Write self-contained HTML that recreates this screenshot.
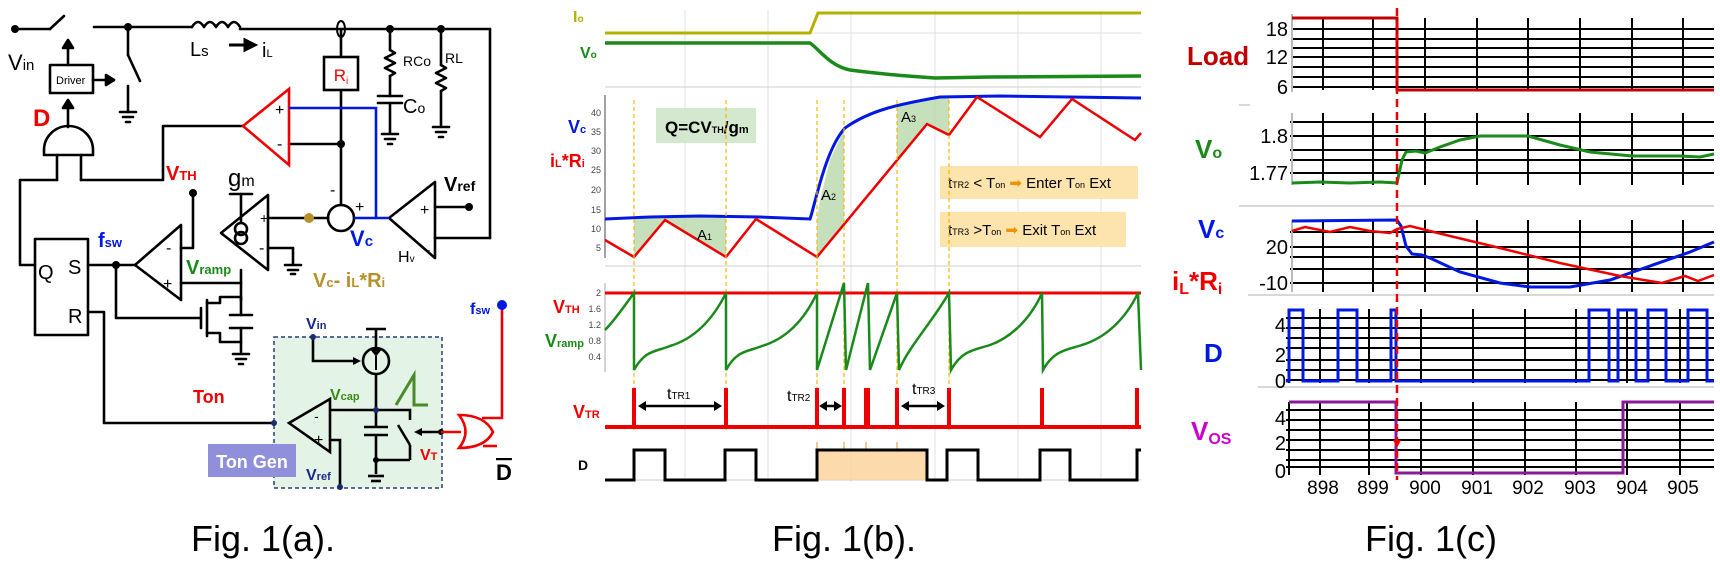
<!DOCTYPE html>
<html><head><meta charset="utf-8"><style>
html,body{margin:0;padding:0;background:#fff}
svg{display:block}
text{font-family:"Liberation Sans",sans-serif}
</style></head><body>
<svg width="1720" height="574" viewBox="0 0 1720 574" xmlns="http://www.w3.org/2000/svg">
<!-- ================= FIG A ================= -->
<g stroke="#000" stroke-width="2.6" fill="none" stroke-linecap="round" stroke-linejoin="round">
  <!-- top wire -->
  <line x1="15" y1="29" x2="50" y2="29"/><line x1="50" y1="29" x2="64" y2="16"/>
  <line x1="94" y1="27" x2="192" y2="27"/>
  <path d="M192 27 q6 -10 12 0 q6 -10 12 0 q6 -10 12 0 q6 -10 12 0"/>
  <line x1="240" y1="29" x2="490" y2="29"/>
  <line x1="490" y1="29" x2="490" y2="238"/><line x1="490" y1="238" x2="435" y2="238"/>
  <!-- shunt switch -->
  <line x1="128" y1="27" x2="128" y2="55"/><line x1="128" y1="55" x2="140" y2="81"/>
  <line x1="128" y1="86" x2="128" y2="112"/>
  <line x1="120" y1="112" x2="136" y2="112"/><line x1="123" y1="117" x2="133" y2="117"/><line x1="126" y1="122" x2="130" y2="122"/>
  <!-- driver -->
  <rect x="50" y="65" width="43" height="28"/>
  <line x1="68" y1="65" x2="68" y2="44"/><path d="M63 48 L68 40 L73 48 Z" fill="#000"/>
  <line x1="93" y1="80" x2="110" y2="80"/><path d="M106 75 L114 80 L106 85 Z" fill="#000"/>
  <line x1="68" y1="127" x2="68" y2="104"/><path d="M63 108 L68 100 L73 108 Z" fill="#000"/>
  <!-- AND gate -->
  <path d="M44 155 L44 150 A24.5 24 0 0 1 93 150 L93 155 Z"/>
  <line x1="57" y1="155" x2="57" y2="180"/><line x1="81" y1="155" x2="81" y2="180"/>
  <polyline points="81,180 163,180 163,126 243,126"/>
  <polyline points="57,180 20,180 20,265 35,265"/>
  <!-- Ri path -->
  <line x1="341" y1="29" x2="341" y2="57"/>
  <line x1="341" y1="90" x2="341" y2="205"/>
  <line x1="289" y1="144" x2="341" y2="144"/>
  <!-- RCo, Co -->
  <line x1="390" y1="29" x2="390" y2="50"/>
  <path d="M390 50 l5 3 l-10 5 l10 5 l-10 5 l10 5 l-5 3"/>
  <line x1="390" y1="76" x2="390" y2="96"/>
  <line x1="378" y1="96" x2="402" y2="96"/><line x1="378" y1="103" x2="402" y2="103"/>
  <line x1="390" y1="103" x2="390" y2="132"/>
  <line x1="382" y1="134" x2="398" y2="134"/><line x1="385" y1="139" x2="395" y2="139"/><line x1="388" y1="144" x2="392" y2="144"/>
  <!-- RL -->
  <line x1="441" y1="29" x2="441" y2="65"/>
  <path d="M441 65 l5 3 l-10 5 l10 5 l-10 5 l10 5 l-5 3"/>
  <line x1="441" y1="91" x2="441" y2="125"/>
  <line x1="433" y1="127" x2="449" y2="127"/><line x1="436" y1="132" x2="446" y2="132"/><line x1="439" y1="137" x2="443" y2="137"/>
  <!-- Hv opamp -->
  <path d="M389 218 L435 182 L435 258 Z"/>
  <line x1="435" y1="207" x2="469" y2="207"/>
  <circle cx="341" cy="218" r="13"/>
  <line x1="268" y1="218" x2="328" y2="218"/>
  <!-- gm -->
  <path d="M221 233 L268 195 L268 270 Z"/>
  <circle cx="241" cy="229" r="6"/><circle cx="241" cy="238" r="6"/>
  <line x1="241" y1="222" x2="241" y2="194"/><line x1="230" y1="194" x2="252" y2="194"/>
  <line x1="268" y1="248" x2="293" y2="248"/><line x1="293" y1="248" x2="293" y2="264"/>
  <line x1="285" y1="265" x2="301" y2="265"/><line x1="288" y1="270" x2="298" y2="270"/><line x1="291" y1="274" x2="295" y2="274"/>
  <!-- fsw comparator -->
  <path d="M135 265 L181 225 L181 300 Z"/>
  <polyline points="181,248 193,248 193,195"/>
  <line x1="181" y1="283" x2="241" y2="283"/>
  <line x1="241" y1="270" x2="241" y2="300"/>
  <!-- SR latch -->
  <rect x="35" y="239" width="53" height="96"/>
  <line x1="88" y1="265" x2="135" y2="265"/>
  <polyline points="116,265 116,318 200,318"/>
  <line x1="201" y1="308" x2="201" y2="328"/>
  <line x1="207" y1="300" x2="207" y2="336"/>
  <polyline points="207,303 220,303 220,297 241,297 241,300"/>
  <polyline points="207,333 220,333 220,342 241,342 241,352"/>
  <line x1="230" y1="315" x2="252" y2="315"/><line x1="230" y1="328" x2="252" y2="328"/>
  <line x1="241" y1="300" x2="241" y2="315"/><line x1="241" y1="328" x2="241" y2="342"/>
  <line x1="233" y1="354" x2="249" y2="354"/><line x1="236" y1="359" x2="246" y2="359"/><line x1="239" y1="364" x2="243" y2="364"/>
  <polyline points="88,312 104,312 104,423 289,423"/>
</g>
<!-- Ton gen box -->
<rect x="274" y="337" width="168" height="151" fill="#e3f3e6" stroke="#2a3a7a" stroke-width="1.5" stroke-dasharray="4,3"/>
<rect x="208" y="444" width="88" height="33" fill="#8f8fdc"/>
<text x="252" y="468" font-size="18" fill="#fff" text-anchor="middle" font-weight="bold">Ton Gen</text>
<g stroke="#000" stroke-width="2.6" fill="none">
  <path d="M289 423 L330 399 L330 452 Z"/>
  <polyline points="330,410 376,410 410,410 410,420"/>
  <line x1="376" y1="329" x2="376" y2="348"/><line x1="366" y1="329" x2="386" y2="329"/>
  <circle cx="376" cy="361" r="13"/>
  <line x1="376" y1="374" x2="376" y2="427"/>
  <line x1="364" y1="427" x2="388" y2="427"/><line x1="364" y1="435" x2="388" y2="435"/>
  <line x1="376" y1="435" x2="376" y2="474"/>
  <line x1="376" y1="460" x2="410" y2="460"/><line x1="410" y1="460" x2="410" y2="445"/><line x1="410" y1="445" x2="398" y2="425"/>
  <line x1="368" y1="476" x2="384" y2="476"/><line x1="371" y1="481" x2="381" y2="481"/>
  <polyline points="330,440 340,440 340,487"/>
  <polyline points="313,337 313,361 355,361"/>
  <line x1="418" y1="432" x2="441" y2="432"/>
</g>
<path d="M376 355 l-4 -5 h8z M376 370 v-14" stroke="#000" stroke-width="2" fill="#000"/>
<path d="M361 361 l-8 -4 v8z" fill="#000"/>
<path d="M414 432 l8 -4 v8z" fill="#000"/>
<circle cx="441" cy="432" r="3" fill="#000"/><circle cx="376" cy="460" r="3" fill="#000"/>
<circle cx="376" cy="410" r="3" fill="#1a2a6a"/><circle cx="313" cy="337" r="3" fill="#1a2a6a"/>
<circle cx="274" cy="423" r="3" fill="#1a2a6a"/><circle cx="340" cy="487" r="3" fill="#1a2a6a"/>
<path d="M396 405 L414 375 L414 405 L428 405" stroke="#4a8a2a" stroke-width="3" fill="none"/>
<!-- OR gate -->
<path d="M459 415 Q472 432 459 448 Q485 448 493 432 Q485 415 459 415 Z" stroke="#e00" stroke-width="2.6" fill="none"/>
<line x1="441" y1="432" x2="461" y2="432" stroke="#e00" stroke-width="2.6"/>
<polyline points="482,418 502,418 502,305" stroke="#e00" stroke-width="2.6" fill="none"/>
<line x1="483" y1="446" x2="497" y2="446" stroke="#e00" stroke-width="2.6"/>
<circle cx="502" cy="305" r="5" fill="#0018e0"/>
<!-- red comparator + blue -->
<path d="M243 126 L289 89 L289 165 Z" stroke="#e00" stroke-width="2.6" fill="none"/>
<polyline points="289,108 376,108 376,218 389,218" stroke="#0018e0" stroke-width="2.6" fill="none"/>
<line x1="354" y1="218" x2="376" y2="218" stroke="#0018e0" stroke-width="2.6"/>
<rect x="324" y="57" width="34" height="33" fill="#fff" stroke="#000" stroke-width="2.6"/>
<text x="341" y="81" font-size="17" fill="#e00" text-anchor="middle">R<tspan font-size="10" dy="3">i</tspan></text>
<ellipse cx="341" cy="29" rx="4" ry="8" fill="none" stroke="#000" stroke-width="2"/>
<g fill="#000">
<circle cx="15" cy="29" r="4"/><circle cx="128" cy="27" r="4"/><circle cx="390" cy="29" r="4"/><circle cx="441" cy="29" r="4"/>
<circle cx="341" cy="144" r="4"/><circle cx="469" cy="207" r="4"/><circle cx="193" cy="193" r="4"/><circle cx="116" cy="265" r="4"/>
</g>
<circle cx="309" cy="218" r="5" fill="#b8902a"/>
<path d="M229 45 h16 M245 40 l10 5 l-10 5z" stroke="#000" stroke-width="3" fill="#000"/>
<g font-size="20" fill="#000">
<text x="8" y="70" font-size="22">V<tspan font-size="15">in</tspan></text>
<text x="56" y="84" font-size="11">Driver</text>
<text x="190" y="56">L<tspan font-size="15">s</tspan></text>
<text x="262" y="57">i<tspan font-size="11">L</tspan></text>
<text x="403" y="66" font-size="14">RCo</text>
<text x="403" y="113" font-size="20">C<tspan font-size="14">o</tspan></text>
<text x="445" y="63" font-size="14">RL</text>
<text x="228" y="186" font-size="24">g<tspan font-size="16">m</tspan></text>
<text x="38" y="279" font-size="20">Q</text><text x="68" y="274" font-size="20">S</text><text x="68" y="323" font-size="20">R</text>
<text x="398" y="262" font-size="16">H<tspan font-size="10">v</tspan></text>
<text x="444" y="191" font-size="20" font-weight="bold">V<tspan font-size="14">ref</tspan></text>
<text x="330" y="195" font-size="16">-</text><text x="355" y="212" font-size="16">+</text>
<text x="275" y="115" font-size="16">+</text><text x="277" y="149" font-size="16">-</text>
<text x="260" y="223" font-size="14">+</text><text x="259" y="253" font-size="16">-</text>
<text x="166" y="253" font-size="16">-</text><text x="163" y="289" font-size="16">+</text>
<text x="314" y="421" font-size="14">-</text><text x="314" y="445" font-size="16">+</text>
<text x="425" y="255" font-size="16">-</text><text x="420" y="215" font-size="16">+</text>
<text x="496" y="480" font-size="22" font-weight="bold" text-decoration="overline">D</text>
</g>
<g font-weight="bold">
<text x="33" y="126" font-size="24" fill="#e00">D</text>
<text x="166" y="180" font-size="20" fill="#e00">V<tspan font-size="13">TH</tspan></text>
<text x="98" y="247" font-size="20" fill="#0018e0">f<tspan font-size="13">sw</tspan></text>
<text x="186" y="274" font-size="20" fill="#1a8a1a">V<tspan font-size="13">ramp</tspan></text>
<text x="350" y="246" font-size="22" fill="#0018e0">V<tspan font-size="15">c</tspan></text>
<text x="313" y="287" font-size="20" fill="#b8902a">V<tspan font-size="13">c</tspan>- i<tspan font-size="13">L</tspan>*R<tspan font-size="13">i</tspan></text>
<text x="193" y="403" font-size="18" fill="#e00">Ton</text>
<text x="306" y="329" font-size="16" fill="#1a2a8a">V<tspan font-size="11">in</tspan></text>
<text x="330" y="400" font-size="16" fill="#3a8a1a">V<tspan font-size="11">cap</tspan></text>
<text x="420" y="460" font-size="16" fill="#e00">V<tspan font-size="11">T</tspan></text>
<text x="306" y="480" font-size="16" fill="#1a2a8a">V<tspan font-size="11">ref</tspan></text>
<text x="470" y="314" font-size="16" fill="#0018e0">f<tspan font-size="11">sw</tspan></text>
</g>

<!-- ================= FIG B ================= -->
<g stroke="#e2e2e2" stroke-width="1">
<line x1="685" y1="10" x2="685" y2="482"/><line x1="768" y1="10" x2="768" y2="482"/><line x1="851" y1="10" x2="851" y2="482"/>
<line x1="935" y1="10" x2="935" y2="482"/><line x1="1018" y1="10" x2="1018" y2="482"/><line x1="1101" y1="10" x2="1101" y2="482"/>
<line x1="605" y1="33" x2="1141" y2="33"/>
<line x1="605" y1="87" x2="1141" y2="87" stroke="#ccc"/>
<line x1="605" y1="266" x2="1141" y2="266" stroke="#ccc"/>
<line x1="605" y1="480" x2="1141" y2="480" stroke="#ccc"/>
</g>
<line x1="605" y1="95" x2="605" y2="258" stroke="#444" stroke-width="1"/>
<line x1="605" y1="283" x2="605" y2="372" stroke="#aaa" stroke-width="1"/>
<polyline points="605,33 810,33 818,13 1141,13" stroke="#b5b000" stroke-width="3" fill="none"/>
<path d="M605 43 L810 43 C 820 50, 830 66, 850 70 C 880 74, 905 76, 935 78 L 990 77 L1141 76" stroke="#1a8a1a" stroke-width="3.5" fill="none"/>
<g font-size="9" fill="#444" text-anchor="end">
<text x="601" y="116">40</text><text x="601" y="135">35</text><text x="601" y="154">30</text><text x="601" y="173">25</text>
<text x="601" y="193">20</text><text x="601" y="213">15</text><text x="601" y="232">10</text><text x="601" y="251">5</text>
<text x="601" y="296">2</text><text x="601" y="312">1.6</text><text x="601" y="328">1.2</text><text x="601" y="344">0.8</text><text x="601" y="360">0.4</text>
</g>
<rect x="656" y="108" width="100" height="35" fill="#d4e7cf"/>
<text x="665" y="133" font-size="17" font-weight="bold" fill="#000">Q=CV<tspan font-size="9">TH</tspan>/g<tspan font-size="11">m</tspan></text>
<g fill="#b8d8aa" opacity="0.8">
<polygon points="634,257 665,220 726,257 726,218 700,216 650,217 634,218"/>
<polygon points="817,257 844,224 844,130 830,160 820,200 817,219"/>
<polygon points="897,160 927,124 949,135 949,96 920,100 897,106"/>
</g>
<path d="M605 219 L650 217 L700 216 L760 217 L810 219 C 815 205, 825 150, 845 128 C 870 110, 900 104, 940 97 L1000 96 L1141 98" stroke="#0018e0" stroke-width="3" fill="none"/>
<polyline points="605,240 634,257 665,220 726,257 756,219 817,257 927,124 949,135 977,97 1040,137 1072,99 1135,140 1141,133" stroke="#e00" stroke-width="2.5" fill="none"/>
<rect x="940" y="166" width="198" height="33" fill="#fde3ac"/>
<rect x="940" y="212" width="186" height="35" fill="#fde3ac"/>
<g font-size="15" fill="#000">
<text x="948" y="188">t<tspan font-size="9">TR2</tspan> &lt; T<tspan font-size="9">on</tspan> <tspan fill="#f29000">➡</tspan> Enter T<tspan font-size="9">on</tspan> Ext</text>
<text x="948" y="235">t<tspan font-size="9">TR3</tspan> &gt;T<tspan font-size="9">on</tspan>  <tspan fill="#f29000">➡</tspan> Exit T<tspan font-size="9">on</tspan> Ext</text>
<text x="697" y="240">A<tspan font-size="9">1</tspan></text>
<text x="821" y="200">A<tspan font-size="9">2</tspan></text>
<text x="901" y="122">A<tspan font-size="9">3</tspan></text>
</g>
<g stroke="#f5b800" stroke-width="1.2" stroke-dasharray="4,3">
<line x1="634" y1="100" x2="634" y2="430"/><line x1="726" y1="100" x2="726" y2="430"/><line x1="817" y1="100" x2="817" y2="430"/>
<line x1="844" y1="100" x2="844" y2="430"/><line x1="897" y1="100" x2="897" y2="430"/><line x1="949" y1="100" x2="949" y2="430"/>
</g>
<!-- Vramp -->
<line x1="605" y1="293" x2="1141" y2="293" stroke="#e00" stroke-width="3"/>
<path d="M605 330 C 615 320, 625 305, 634 293 L634 370
 C 645 350, 655 352, 670 346 C 690 340, 710 325, 726 293 L726 370
 C 737 350, 747 352, 762 346 C 782 340, 802 325, 817 293 L817 370 L844 283 L846 370 L868 283 L870 370 L897 293 L899 370
 C 910 345, 930 325, 949 293 L951 370
 C 962 350, 975 350, 990 345 C 1010 338, 1030 320, 1042 293 L1043 370
 C 1054 350, 1067 350, 1082 345 C 1105 338, 1125 320, 1138 293 L1141 370" stroke="#1a8a1a" stroke-width="2.5" fill="none"/>
<!-- VTR -->
<line x1="605" y1="427" x2="1141" y2="427" stroke="#e00" stroke-width="4"/>
<g fill="#e00">
<rect x="632" y="388" width="4" height="39"/><rect x="724" y="388" width="4" height="39"/><rect x="815" y="388" width="4" height="39"/>
<rect x="842" y="388" width="4" height="39"/><rect x="864" y="388" width="6" height="39"/><rect x="895" y="388" width="4" height="39"/>
<rect x="947" y="388" width="4" height="39"/><rect x="1040" y="388" width="4" height="39"/><rect x="1135" y="388" width="4" height="39"/>
</g>
<g stroke="#000" stroke-width="2.5">
<line x1="644" y1="406" x2="716" y2="406"/><line x1="825" y1="406" x2="836" y2="406"/><line x1="907" y1="406" x2="939" y2="406"/>
</g>
<g fill="#000">
<path d="M638 406 l8 -5 v10z M722 406 l-8 -5 v10z M819 406 l8 -5 v10z M842 406 l-8 -5 v10z M901 406 l8 -5 v10z M945 406 l-8 -5 v10z"/>
</g>
<g font-size="16" fill="#000">
<text x="667" y="399">t<tspan font-size="10">TR1</tspan></text>
<text x="787" y="401">t<tspan font-size="10">TR2</tspan></text>
<text x="912" y="394">t<tspan font-size="10">TR3</tspan></text>
</g>
<!-- D -->
<rect x="817" y="450" width="110" height="30" fill="#fbd49c" opacity="0.85"/>
<g stroke="#f5a050" stroke-width="1.2"><line x1="817" y1="442" x2="817" y2="449"/><line x1="844" y1="442" x2="844" y2="449"/><line x1="866" y1="442" x2="866" y2="449"/><line x1="897" y1="442" x2="897" y2="449"/></g>
<polyline points="605,480 634,480 634,450 665,450 665,480 725,480 725,450 756,450 756,480 817,480 817,450 927,450 927,480 947,480 947,450 978,450 978,480 1040,480 1040,450 1070,450 1070,480 1137,480 1137,450 1141,450" stroke="#000" stroke-width="3" fill="none"/>
<g font-weight="bold">
<text x="573" y="22" font-size="16" fill="#b5b000">I<tspan font-size="10">o</tspan></text>
<text x="580" y="58" font-size="16" fill="#1a8a1a">V<tspan font-size="10">o</tspan></text>
<text x="568" y="133" font-size="18" fill="#0018e0">V<tspan font-size="11">c</tspan></text>
<text x="550" y="167" font-size="18" fill="#e00">i<tspan font-size="11">L</tspan>*R<tspan font-size="11">i</tspan></text>
<text x="553" y="313" font-size="18" fill="#e00">V<tspan font-size="11">TH</tspan></text>
<text x="545" y="347" font-size="18" fill="#1a8a1a">V<tspan font-size="11">ramp</tspan></text>
<text x="573" y="418" font-size="18" fill="#e00">V<tspan font-size="11">TR</tspan></text>
<text x="578" y="470" font-size="14" fill="#000">D</text>
</g>

<!-- ================= FIG C ================= -->
<g stroke="#000" stroke-width="2">
<!-- Load -->
<line x1="1292" y1="29" x2="1714" y2="29"/><line x1="1292" y1="39" x2="1714" y2="39"/><line x1="1292" y1="48" x2="1714" y2="48"/>
<line x1="1292" y1="57" x2="1714" y2="57"/><line x1="1292" y1="67" x2="1714" y2="67"/><line x1="1292" y1="77" x2="1714" y2="77"/><line x1="1292" y1="87" x2="1714" y2="87"/>
<g id="vl1"><line x1="1323" y1="18" x2="1323" y2="90"/><line x1="1373" y1="18" x2="1373" y2="90"/><line x1="1425" y1="18" x2="1425" y2="90"/>
<line x1="1477" y1="18" x2="1477" y2="90"/><line x1="1528" y1="18" x2="1528" y2="90"/><line x1="1580" y1="18" x2="1580" y2="90"/>
<line x1="1632" y1="18" x2="1632" y2="90"/><line x1="1683" y1="18" x2="1683" y2="90"/></g>
<!-- Vo -->
<line x1="1290" y1="122" x2="1714" y2="122"/><line x1="1290" y1="136" x2="1714" y2="136"/><line x1="1290" y1="150" x2="1714" y2="150"/>
<line x1="1290" y1="160" x2="1714" y2="160"/><line x1="1290" y1="173" x2="1714" y2="173"/>
<g transform="translate(0,95)"><use href="#vl1"/></g>
<!-- Vc -->
<line x1="1290" y1="232" x2="1714" y2="232"/><line x1="1290" y1="247" x2="1714" y2="247"/><line x1="1290" y1="257" x2="1714" y2="257"/>
<line x1="1290" y1="269" x2="1714" y2="269"/><line x1="1290" y1="283" x2="1714" y2="283"/>
<g transform="translate(0,202)"><use href="#vl1"/></g>
<!-- D -->
<line x1="1286" y1="318" x2="1714" y2="318"/><line x1="1286" y1="328" x2="1714" y2="328"/><line x1="1286" y1="338" x2="1714" y2="338"/>
<line x1="1286" y1="348" x2="1714" y2="348"/><line x1="1286" y1="360" x2="1714" y2="360"/><line x1="1286" y1="370" x2="1714" y2="370"/><line x1="1286" y1="380" x2="1714" y2="380"/>
<line x1="1289" y1="309" x2="1289" y2="383"/>
<line x1="1320" y1="309" x2="1320" y2="383"/><line x1="1369" y1="309" x2="1369" y2="383"/><line x1="1421" y1="309" x2="1421" y2="383"/>
<line x1="1473" y1="309" x2="1473" y2="383"/><line x1="1525" y1="309" x2="1525" y2="383"/><line x1="1576" y1="309" x2="1576" y2="383"/>
<line x1="1627" y1="309" x2="1627" y2="383"/><line x1="1680" y1="309" x2="1680" y2="383"/>
<!-- Vos -->
<line x1="1286" y1="410" x2="1714" y2="410"/><line x1="1286" y1="420" x2="1714" y2="420"/><line x1="1286" y1="430" x2="1714" y2="430"/>
<line x1="1286" y1="440" x2="1714" y2="440"/><line x1="1286" y1="450" x2="1714" y2="450"/><line x1="1286" y1="460" x2="1714" y2="460"/><line x1="1286" y1="467" x2="1714" y2="467"/>
<line x1="1289" y1="402" x2="1289" y2="475"/>
<line x1="1320" y1="402" x2="1320" y2="475"/><line x1="1369" y1="402" x2="1369" y2="475"/><line x1="1421" y1="402" x2="1421" y2="475"/>
<line x1="1473" y1="402" x2="1473" y2="475"/><line x1="1525" y1="402" x2="1525" y2="475"/><line x1="1576" y1="402" x2="1576" y2="475"/>
<line x1="1627" y1="402" x2="1627" y2="475"/><line x1="1680" y1="402" x2="1680" y2="475"/>
</g>
<g stroke="#bbb" stroke-width="2">
<line x1="1292" y1="14" x2="1292" y2="92"/><line x1="1292" y1="113" x2="1292" y2="185"/><line x1="1292" y1="220" x2="1292" y2="292"/>
</g>
<g stroke="#ccc" stroke-width="1.5">
<line x1="1239" y1="206" x2="1714" y2="206"/><line x1="1248" y1="295" x2="1714" y2="295"/><line x1="1258" y1="387" x2="1714" y2="387"/>
<line x1="1239" y1="105" x2="1250" y2="105"/>
</g>
<polyline points="1292,18 1397,18 1397,90 1714,90" stroke="#c00000" stroke-width="3" fill="none"/>
<path d="M1292 183 L1320 182 L1350 183 L1380 182 L1397 183 L1402 160 L1406 152 L1416 151 L1425 153 L1440 147 L1460 140 L1480 136 L1528 136 L1560 145 L1590 152 L1632 156 L1680 156 L1700 157 L1714 154" stroke="#1a8a1a" stroke-width="3" fill="none"/>
<path d="M1292 221 L1397 220 L1401 226 L1406 246 L1412 254 L1422 255 L1430 258 L1460 272 L1500 283 L1530 287 L1570 287 L1610 280 L1650 266 L1690 252 L1714 242" stroke="#0018e0" stroke-width="3" fill="none"/>
<path d="M1292 231 L1305 227 L1330 232 L1350 227 L1370 231 L1390 233 L1397 229 L1410 226 L1450 236 L1500 248 L1560 263 L1620 276 L1662 283 L1685 276 L1698 281 L1714 275" stroke="#e00" stroke-width="2.5" fill="none"/>
<polyline points="1286,381 1289,381 1289,310 1303,310 1303,381 1338,381 1338,310 1357,310 1357,381 1391,381 1391,310 1396,310 1396,381 1589,381 1589,310 1609,310 1609,381 1618,381 1618,310 1636,310 1636,381 1648,381 1648,310 1666,310 1666,381 1688,381 1688,310 1707,310 1707,381 1714,381" stroke="#0018e0" stroke-width="3" fill="none"/>
<polyline points="1289,402 1396,402 1396,473 1623,473 1623,402 1714,402" stroke="#8a1a9a" stroke-width="3" fill="none"/>
<line x1="1397" y1="8" x2="1397" y2="480" stroke="#e00" stroke-width="2.5" stroke-dasharray="8,5"/>
<path d="M1393 440 l4 8 l4 -8z" fill="#e00"/>
<g font-size="20" fill="#000" text-anchor="end">
<text x="1288" y="36">18</text><text x="1288" y="64">12</text><text x="1288" y="94">6</text>
<text x="1288" y="143">1.8</text><text x="1288" y="180">1.77</text>
<text x="1288" y="254">20</text><text x="1288" y="290">-10</text>
<text x="1286" y="332">4</text><text x="1286" y="362">2</text><text x="1286" y="388">0</text>
<text x="1286" y="425">4</text><text x="1286" y="450">2</text><text x="1286" y="478">0</text>
</g>
<g font-size="19" fill="#000" text-anchor="middle">
<text x="1323" y="494">898</text><text x="1373" y="494">899</text><text x="1425" y="494">900</text><text x="1477" y="494">901</text>
<text x="1528" y="494">902</text><text x="1580" y="494">903</text><text x="1632" y="494">904</text><text x="1683" y="494">905</text>
</g>
<g font-weight="bold">
<text x="1187" y="65" font-size="26" fill="#c00000">Load</text>
<text x="1195" y="158" font-size="26" fill="#1a8a1a">V<tspan font-size="16">o</tspan></text>
<text x="1198" y="238" font-size="26" fill="#0018e0">V<tspan font-size="16">c</tspan></text>
<text x="1172" y="290" font-size="26" fill="#e00">i<tspan font-size="16" dy="4">L</tspan><tspan dy="-4">*R</tspan><tspan font-size="16" dy="4">i</tspan></text>
<text x="1204" y="362" font-size="26" fill="#0018e0">D</text>
<text x="1191" y="440" font-size="26" fill="#cc00cc">V<tspan font-size="16" dy="4">OS</tspan></text>
</g>

<!-- Captions -->
<g font-size="36" fill="#000" text-anchor="middle">
<text x="263" y="551">Fig. 1(a).</text>
<text x="844" y="551">Fig. 1(b).</text>
<text x="1431" y="551">Fig. 1(c)</text>
</g>
</svg>
</body></html>
